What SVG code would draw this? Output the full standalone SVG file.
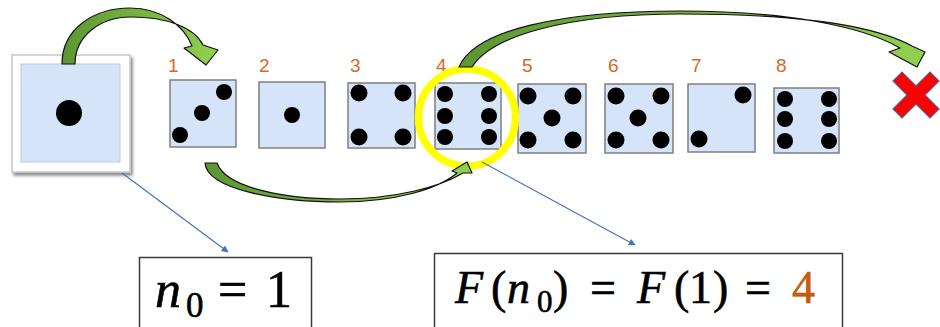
<svg xmlns="http://www.w3.org/2000/svg" width="940" height="327" viewBox="0 0 940 327">
<defs>
<style>
.die{fill:#D6E4FA;stroke:#7F7F7F;stroke-width:1.5}
.dot{fill:#000}
.lbl{font-family:"Liberation Sans",Arial,sans-serif;font-size:19px;fill:#D4692A}
.arrow{stroke:#111;stroke-width:1.2;stroke-linejoin:round}
.blue{stroke:#4472C4;stroke-width:1.2;fill:none}
.box{fill:#fff;stroke:#3A3A3A;stroke-width:1.5}
.math{font-family:"Liberation Serif","Times New Roman",serif;fill:#000;stroke:#000;stroke-width:0.6}
.it{font-style:italic}
</style>
<linearGradient id="g" x1="0" y1="0" x2="1" y2="0">
<stop offset="0" stop-color="#5C9632"/>
<stop offset="1" stop-color="#92D050"/>
</linearGradient>
<marker id="ba" viewBox="0 0 10 10" refX="9" refY="5" markerWidth="7" markerHeight="7" orient="auto" markerUnits="userSpaceOnUse">
<path d="M0,0 L10,5 L0,10 Z" fill="#4472C4"/>
</marker>
<filter id="sh" x="-10%" y="-10%" width="130%" height="130%">
<feDropShadow dx="2" dy="3" stdDeviation="1.5" flood-color="#000" flood-opacity="0.45"/>
</filter>
</defs>
<rect width="940" height="327" fill="#fff"/>

<g id="start-die">
<rect x="12" y="55" width="118" height="117" fill="#fff" stroke="#C8C8C8" stroke-width="1.5" filter="url(#sh)"/>
<rect x="21" y="64" width="99" height="98" fill="#D6E4FA" stroke="#BFC9D8" stroke-width="1"/>
<circle class="dot" cx="69" cy="113" r="13"/>
</g>

<g id="die1">
<text class="lbl" x="168" y="72">1</text>
<rect class="die" x="170" y="80" width="66" height="67"/>
<circle class="dot" cx="224" cy="92" r="8"/><circle class="dot" cx="202" cy="113" r="8"/><circle class="dot" cx="180" cy="135" r="8"/>
</g>
<g id="die2">
<text class="lbl" x="259" y="72">2</text>
<rect class="die" x="259" y="82" width="66" height="66"/>
<circle class="dot" cx="292" cy="115" r="8"/>
</g>
<g id="die3">
<text class="lbl" x="350" y="72">3</text>
<rect class="die" x="348" y="83" width="67" height="65"/>
<circle class="dot" cx="359" cy="93" r="8.5"/><circle class="dot" cx="403" cy="93" r="8.5"/><circle class="dot" cx="359" cy="137" r="8.5"/><circle class="dot" cx="403" cy="137" r="8.5"/>
</g>
<g id="die4">
<text class="lbl" x="436" y="72">4</text>
<rect class="die" x="435" y="83" width="66" height="66"/>
<circle class="dot" cx="445" cy="94" r="8"/><circle class="dot" cx="489" cy="94" r="8"/><circle class="dot" cx="445" cy="116" r="8"/><circle class="dot" cx="489" cy="116" r="8"/><circle class="dot" cx="445" cy="137" r="8"/><circle class="dot" cx="489" cy="137" r="8"/>
</g>
<g id="die5">
<text class="lbl" x="522" y="72">5</text>
<rect class="die" x="518" y="84" width="68" height="69"/>
<circle class="dot" cx="528" cy="96" r="8.5"/><circle class="dot" cx="573" cy="96" r="8.5"/><circle class="dot" cx="552" cy="118" r="8.5"/><circle class="dot" cx="528" cy="140" r="8.5"/><circle class="dot" cx="573" cy="140" r="8.5"/>
</g>
<g id="die6">
<text class="lbl" x="608" y="72">6</text>
<rect class="die" x="605" y="84" width="68" height="69"/>
<circle class="dot" cx="616" cy="96" r="8.5"/><circle class="dot" cx="661" cy="96" r="8.5"/><circle class="dot" cx="638" cy="118" r="8.5"/><circle class="dot" cx="616" cy="140" r="8.5"/><circle class="dot" cx="661" cy="140" r="8.5"/>
</g>
<g id="die7">
<text class="lbl" x="691" y="72">7</text>
<rect class="die" x="688" y="84" width="67" height="68"/>
<circle class="dot" cx="743" cy="95" r="8.5"/><circle class="dot" cx="699" cy="139" r="8.5"/>
</g>
<g id="die8">
<text class="lbl" x="776" y="72">8</text>
<rect class="die" x="774" y="88" width="65" height="65"/>
<circle class="dot" cx="785" cy="99" r="8"/><circle class="dot" cx="829" cy="99" r="8"/><circle class="dot" cx="785" cy="119" r="8"/><circle class="dot" cx="829" cy="119" r="8"/><circle class="dot" cx="785" cy="141" r="8"/><circle class="dot" cx="829" cy="141" r="8"/>
</g>

<g id="highlight">
<circle cx="467" cy="117.5" r="48.5" fill="none" stroke="#FFFF00" stroke-width="7.5"/>
</g>

<g id="reject">
<polygon transform="translate(916,95)" points="-23,-14 -14,-23 0,-9 14,-23 23,-14 9,0 23,14 14,23 0,9 -14,23 -23,14 -9,0" fill="#FF0000" stroke="#5B5E8C" stroke-width="1.2"/>
</g>

<g id="connectors">
<path class="arrow" fill="url(#g)" d="M62,64 C62,28 95,8 130,8 C162,8 184,26 192,46 L184,48 L206,65 L218,50 L203,45 C194,27 166,17 131,17 C100,17 75,36 75,64 Z"/>
<path class="arrow" fill="url(#g)" d="M205,163 C207,190 280,202 340,202 C395,202 438,189 457,173 L452,171 L467,162 L472,173 L463,173 C440,187 395,199 340,199 C285,199 226,188 217,163 Z"/>
<path class="arrow" fill="url(#g)" d="M459,67 C475,30 560,11 680,11 C785,11 862,26 900,48 L889,52 L917,67 L925,52 L912,46 C868,22 785,14 680,14 C570,14 492,35 472,67 Z"/>
<line class="blue" x1="122" y1="173" x2="228" y2="252" marker-end="url(#ba)"/>
<line class="blue" x1="482" y1="162" x2="635" y2="245" marker-end="url(#ba)"/>
</g>

<g id="box-n0">
<rect class="box" x="139.5" y="257.5" width="172" height="80"/>
<text class="math" font-size="52" y="307"><tspan class="it" x="155">n</tspan><tspan font-size="35" x="186" y="317">0</tspan><tspan x="218" y="307">=</tspan><tspan x="266">1</tspan></text>
</g>

<g id="box-F">
<rect class="box" x="434.5" y="253.5" width="408" height="80"/>
<text class="math" font-size="46" y="303"><tspan class="it" x="455">F</tspan><tspan x="491">(</tspan><tspan class="it" x="507">n</tspan><tspan font-size="31" x="537" y="312">0</tspan><tspan x="553" y="303">)</tspan><tspan x="590">=</tspan><tspan class="it" x="637">F</tspan><tspan x="674">(</tspan><tspan x="689">1</tspan><tspan x="713">)</tspan><tspan x="745">=</tspan><tspan x="792" fill="#C55A11" stroke="#C55A11">4</tspan></text>
</g>
</svg>
